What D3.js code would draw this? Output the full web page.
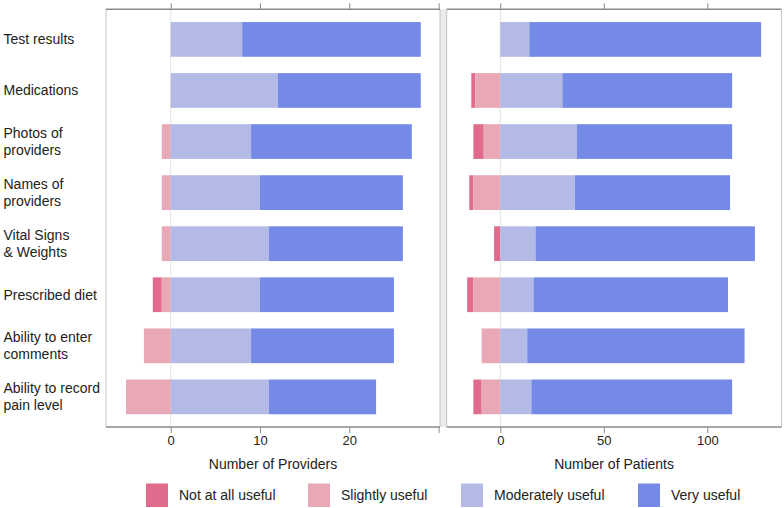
<!DOCTYPE html>
<html><head><meta charset="utf-8">
<script src="https://cdn.jsdelivr.net/npm/d3@7"></script>
<style>body{margin:0;background:#fff;} svg{display:block;font-family:"Liberation Sans",Arial,sans-serif;}</style>
</head><body><svg id="c" width="784" height="508"></svg>
<script>
const categories = ["Test results","Medications","Photos of\nproviders","Names of\nproviders","Vital Signs\n& Weights","Prescribed diet","Ability to enter\ncomments","Ability to record\npain level"];
const seriesNames = ["Not at all useful","Slightly useful","Moderately useful","Very useful"];
const colors = ["#e06b8c","#e8a8b5","#b3bae6","#758ae6"];
// Providers
const provNot      = [0,0,0,0,0,1,0,0];
const provSlightly = [0,0,1,1,1,1,3,5];
const provModerate = [8,12,9,10,11,10,9,11];
const provVery     = [20,16,18,16,15,15,16,12];
// Patients
const patNot      = [0,2,5,2,3,3,0,4];
const patSlightly = [0,12,8,13,0,13,9,9];
const patModerate = [14,30,37,36,17,16,13,15];
const patVery     = [112,82,75,75,106,94,105,97];
const provTicks = [0,10,20,30];
const provTickLabels = ["0","10","20",""];
const patTicks = [0,50,100];
const patTickLabels = ["0","50","100"];
const axisTitles = ["Number of Providers","Number of Patients"];

const svg = d3.select("#c");
const yTop = 9.3, yBot = 427;
const y = d3.scaleBand().domain(d3.range(categories.length)).range([yTop,yBot]).paddingInner(0.32).paddingOuter(0.25);

// gap between panels
svg.append("rect").attr("x",440).attr("y",yTop).attr("width",6.7).attr("height",yBot-yTop).attr("fill","#ebebeb");

const panels = [
  {x0:106, x1:440, z:170.7, unit:8.93, not:provNot, sl:provSlightly, mod:provModerate, very:provVery, ticks:provTicks, labels:provTickLabels, title:axisTitles[0]},
  {x0:446.7, x1:781.5, z:500.3, unit:2.07, not:patNot, sl:patSlightly, mod:patModerate, very:patVery, ticks:patTicks, labels:patTickLabels, title:axisTitles[1]}
];

panels.forEach(p => {
  const dom = [(p.x0-p.z)/p.unit, (p.x1-p.z)/p.unit];
  const x = d3.scaleLinear().domain(dom).range([p.x0,p.x1]);
  const g = svg.append("g");
  g.append("rect").attr("x",p.x0).attr("y",yTop).attr("width",p.x1-p.x0).attr("height",yBot-yTop).attr("fill","#fff");
  g.append("line").attr("x1",x(0)).attr("x2",x(0)).attr("y1",yTop).attr("y2",yBot).attr("stroke","#e2e2e2").attr("stroke-width",1);
  const segs = [];
  categories.forEach((c,i) => {
    segs.push({i, s:0, a:-(p.sl[i]+p.not[i]), b:-p.sl[i]});
    segs.push({i, s:1, a:-p.sl[i], b:0});
    segs.push({i, s:2, a:0, b:p.mod[i]});
    segs.push({i, s:3, a:p.mod[i], b:p.mod[i]+p.very[i]});
  });
  g.selectAll("rect.bar").data(segs.filter(d=>d.b>d.a)).join("rect").attr("class","bar")
    .attr("x",d=>x(d.a)).attr("width",d=>x(d.b)-x(d.a))
    .attr("y",d=>y(d.i)).attr("height",y.bandwidth()).attr("fill",d=>colors[d.s]);
  g.append("line").attr("x1",p.x0).attr("x2",p.x0).attr("y1",yTop).attr("y2",yBot).attr("stroke","#c4c4c4");
  g.append("line").attr("x1",p.x1).attr("x2",p.x1).attr("y1",yTop).attr("y2",yBot).attr("stroke","#c4c4c4");
  const ta = d3.axisTop(x).tickValues(p.ticks).tickSize(6).tickFormat("");
  const tg = svg.append("g").attr("transform",`translate(0,${yTop})`).call(ta);
  tg.select(".domain").attr("stroke","#8a8a8a").attr("stroke-width",1.5).attr("d",`M${p.x0},0H${p.x1}`);
  tg.selectAll(".tick line").attr("stroke","#8a8a8a");
  const ba = d3.axisBottom(x).tickValues(p.ticks).tickSize(6).tickPadding(3).tickFormat((d,i)=>p.labels[i]);
  const bg = svg.append("g").attr("transform",`translate(0,${yBot})`).call(ba);
  bg.select(".domain").attr("stroke","#8a8a8a").attr("stroke-width",1.5).attr("d",`M${p.x0},0H${p.x1}`);
  bg.selectAll(".tick line").attr("stroke","#8a8a8a");
  bg.selectAll(".tick text").attr("font-size",13).attr("fill","#222").attr("font-family","Liberation Sans, Arial, sans-serif");
  svg.append("text").attr("x",(p.x0+p.x1)/2).attr("y",469).attr("text-anchor","middle").attr("font-size",14).attr("fill","#222").text(p.title);
});

categories.forEach((c,i) => {
  const lines = c.split("\n");
  const cy = y(i) + y.bandwidth()/2;
  const t = svg.append("text").attr("x",3.5).attr("font-size",14).attr("fill","#222");
  lines.forEach((l,k) => {
    t.append("tspan").attr("x",3.5).attr("y", cy + (k-(lines.length-1)/2)*17).attr("dy","0.35em").text(l);
  });
});

const legX = [146,308,461,638];
seriesNames.forEach((n,i) => {
  svg.append("rect").attr("x",legX[i]).attr("y",483.5).attr("width",22).attr("height",23.5).attr("fill",colors[i]);
  svg.append("text").attr("x",legX[i]+33).attr("y",495.5).attr("dy","0.35em").attr("font-size",14).attr("fill","#222").text(n);
});
</script></body></html>
